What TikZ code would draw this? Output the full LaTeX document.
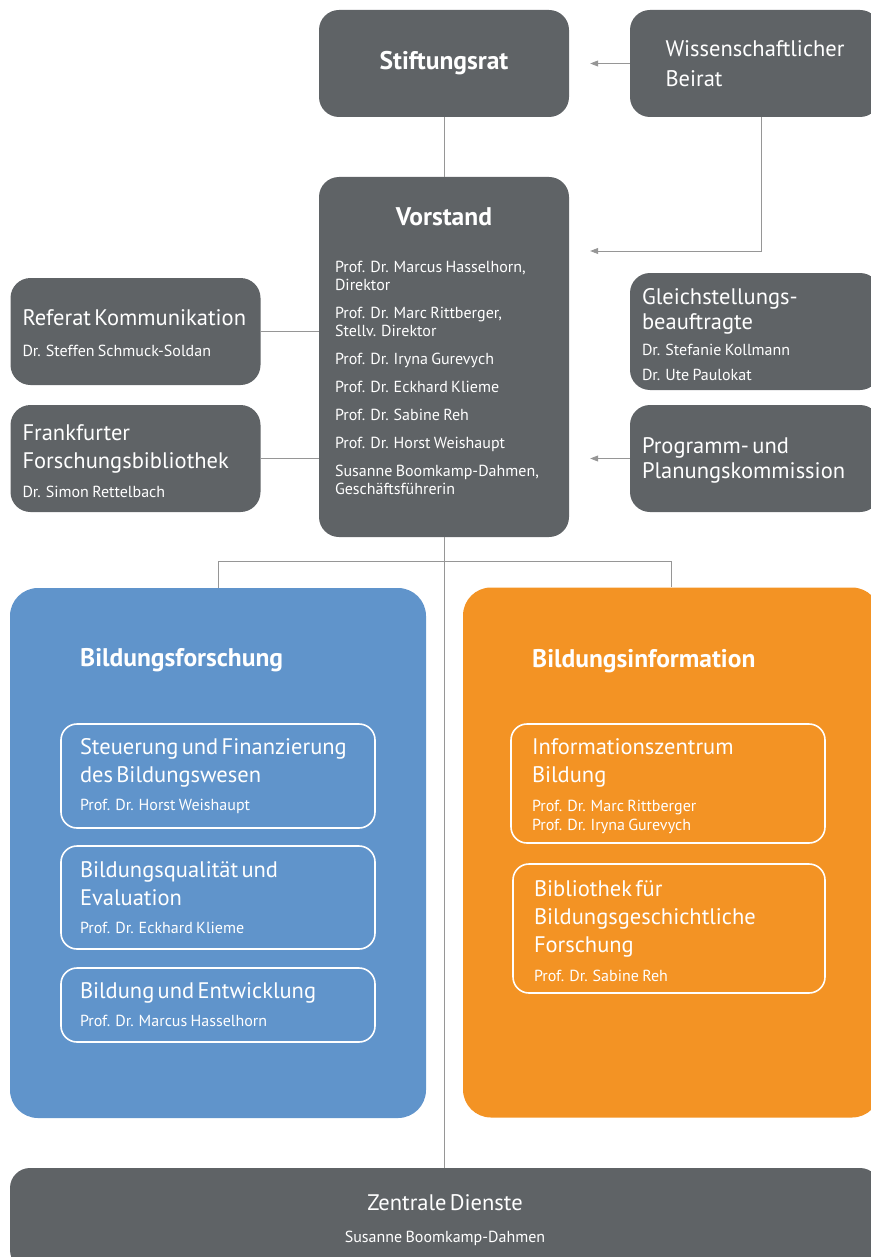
\documentclass[tikz,border=0pt]{standalone}
\usepackage{fontspec}
\setmainfont{PT Sans}
\usetikzlibrary{arrows.meta}
\setlength{\parindent}{0pt}
\definecolor{dunkelgrau}{RGB}{95,99,102}
\definecolor{blauton}{RGB}{96,148,203}
\definecolor{orangeton}{RGB}{243,147,36}
\definecolor{liniengrau}{RGB}{150,150,150}
\newcommand\titel{\fontsize{25.5}{28}\selectfont\bfseries}
\newcommand\kopf{\fontsize{22.5}{28}\selectfont}
\newcommand\kopfeng{\fontsize{22.5}{25}\selectfont}
\newcommand\namen{\fontsize{16}{18}\selectfont}
\newcommand\namenmit{\fontsize{16}{19}\selectfont}
\newcommand\namenweit{\fontsize{16}{25}\selectfont}
\newcommand\tiefer[1]{\rule{0pt}{\dimexpr 16pt+#1\relax}}
\begin{document}
\begin{tikzpicture}[x=1pt,y=-1pt,
  graubox/.style={fill=dunkelgrau,rounded corners=20pt,text=white,minimum width=250pt},
  links/.style={graubox,align=left,text width=226pt,inner xsep=12pt},
  bereich/.style={rounded corners=28pt,minimum width=416pt,minimum height=530pt},
  abteilung/.style={draw=white,line width=1.6pt,rounded corners=16pt,text=white,align=left},
  verbindung/.style={draw=liniengrau,line width=0.8pt},
  pfeil/.style={verbindung,-{Triangle[length=8pt,width=6pt]},shorten >=21pt}]
  \useasboundingbox (0,0) rectangle (870,1257);
  % top row
  \node[graubox,minimum height=107pt,font=\titel] (stift) at (444,63.5){Stiftungsrat};
  \node[graubox,minimum height=107pt,align=left,font={\fontsize{22.5}{30}\selectfont}] (wiss) at (755,63.5){Wissenschaftlicher\\Beirat};
  % vorstand
  \node[graubox,align=left,text width=218pt,inner xsep=16pt,minimum height=360pt] (vorstand) at (444,357){%
    \makebox[\linewidth]{\titel Vorstand}\par\vspace{29pt}
    \namen Prof. Dr. Marcus Hasselhorn,\\Direktor\par\vspace{10pt}
    Prof. Dr. Marc Rittberger,\\Stellv. Direktor\par\vspace{10pt}
    Prof. Dr. Iryna Gurevych\par\vspace{10pt}
    Prof. Dr. Eckhard Klieme\par\vspace{10pt}
    Prof. Dr. Sabine Reh\par\vspace{10pt}
    Prof. Dr. Horst Weishaupt\par\vspace{10pt}
    Susanne Boomkamp-Dahmen,\\Geschäftsführerin\par\vspace{-6pt}\mbox{}\par};
  % left side
  \node[links,minimum height=107pt] (referat) at (135.5,331.5){%
    \kopf\tiefer{4pt}Referat Kommunikation\par\vspace{13pt}
    \namen Dr. Steffen Schmuck-Soldan\par};
  \node[links,minimum height=107pt] (frankfurt) at (135.5,458.5){%
    \kopf\tiefer{5pt}Frankfurter\\Forschungsbibliothek\par\vspace{11pt}
    \namen Dr. Simon Rettelbach\par};
  % right side
  \node[links,minimum height=117pt] (gleich) at (755,331.5){%
    \kopfeng\tiefer{6pt}Gleichstellungs-\\beauftragte\par\vspace{1pt}
    \namenweit Dr. Stefanie Kollmann\\Dr. Ute Paulokat\par};
  \node[links,minimum height=107pt] (programm) at (755,458.5){%
    \kopfeng\tiefer{4pt}Programm- und\\Planungskommission\par};
  % bildungsforschung
  \node[bereich,fill=blauton] (forschung) at (218,853){};
  \node[text=white,anchor=west,inner sep=0pt,font=\titel] (ftitel) at (80,660){Bildungsforschung};
  \node[abteilung,text width=276pt,inner xsep=19pt,minimum height=104pt] (steuerung) at (218,776){%
    \kopf Steuerung und Finanzierung\\des Bildungswesen\par\vspace{10pt}
    \namen Prof. Dr. Horst Weishaupt\par};
  \node[abteilung,text width=276pt,inner xsep=19pt,minimum height=103pt] (qualitaet) at (218,897.5){%
    \kopf Bildungsqualität und\\Evaluation\par\vspace{10pt}
    \namen Prof. Dr. Eckhard Klieme\par};
  \node[abteilung,text width=276pt,inner xsep=19pt,minimum height=74pt] (entwicklung) at (218,1005){%
    \kopf Bildung und Entwicklung\par\vspace{10pt}
    \namen Prof. Dr. Marcus Hasselhorn\par};
  % bildungsinformation
  \node[bereich,fill=orangeton,minimum width=417pt] (information) at (671.5,852.5){};
  \node[text=white,anchor=west,inner sep=0pt,font=\titel] (ititel) at (532,661){Bildungsinformation};
  \node[abteilung,text width=272pt,inner xsep=21pt,minimum height=119pt] (izb) at (668,783.5){%
    \kopf\tiefer{6pt}Informationszentrum\\Bildung\par\vspace{10pt}
    \namenmit Prof. Dr. Marc Rittberger\\Prof. Dr. Iryna Gurevych\par};
  \node[abteilung,text width=270pt,inner xsep=21pt,minimum height=129pt] (bbf) at (669,928.5){%
    \kopf\tiefer{6pt}Bibliothek für\\Bildungsgeschichtliche\\Forschung\par\vspace{11pt}
    \namen Prof. Dr. Sabine Reh\par};
  % zentrale dienste
  \node[graubox,align=center,text width=850pt,inner xsep=10pt,minimum height=102pt] (zentrale) at (445,1219){%
    \fontsize{22.5}{28}\selectfont\tiefer{2pt}Zentrale Dienste\par\vspace{14pt}
    \namen Susanne Boomkamp-Dahmen\par};
  % connectors
  \draw[verbindung] (stift) -- (vorstand);
  \draw[pfeil] (wiss.west) -- (wiss.west -| stift.east);
  \draw[pfeil] ([xshift=6pt]wiss.south) |- ([yshift=106pt]vorstand.east);
  \draw[pfeil] (programm.west) -- (programm.west -| vorstand.east);
  \draw[verbindung] (referat.east) -- (referat.east -| vorstand.west);
  \draw[verbindung] (frankfurt.east) -- (frankfurt.east -| vorstand.west);
  \draw[verbindung] (vorstand.south) -- (vorstand.south |- zentrale.north);
  \draw[verbindung] (forschung.north) -- ++(0,-26) -| (information.north);
\end{tikzpicture}
\end{document}
